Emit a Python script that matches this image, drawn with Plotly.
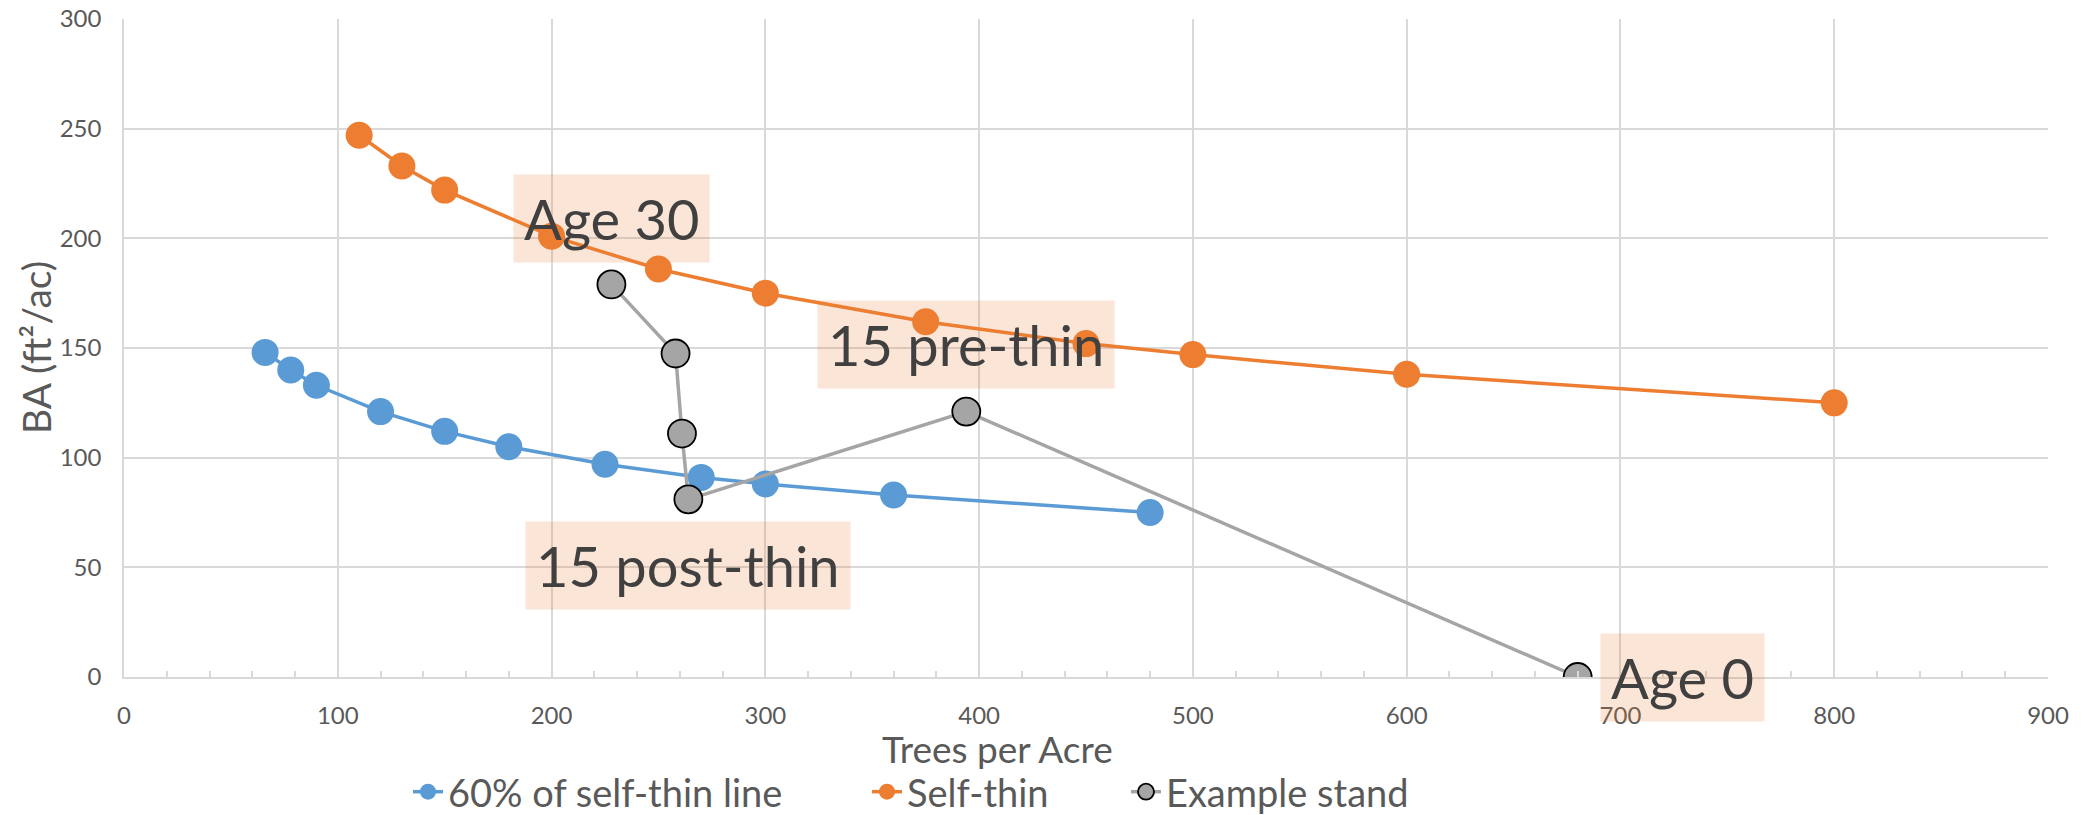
import plotly.graph_objects as go

# Trees per acre (TPA) and basal area (BA, ft²/ac)
self_thin_tpa = [110, 130, 150, 200, 250, 300, 375, 450, 500, 600, 800]
self_thin_ba = [247, 233, 222, 201, 186, 175, 162, 152, 147, 138, 125]

sixty_tpa = [66, 78, 90, 120, 150, 180, 225, 270, 300, 360, 480]
sixty_ba = [148, 140, 133, 121, 112, 105, 97, 91, 88, 83, 75]

stand_tpa = [680, 394, 264, 261, 258, 228]
stand_ba = [0, 121, 81, 111, 147.5, 179]

# Stand-history labels: text and the (TPA, BA) spot each one sits on
label_text = ["Age 30", "15 pre-thin", "15 post-thin", "Age 0"]
label_tpa = [228, 394, 264, 729]
label_ba = [209, 151.5, 51, 0]

W, H = 2082, 815
ML, MR, MT, MB = 124, 34, 19, 138
PW, PH = W - ML - MR, H - MT - MB
FONT = "Lato"
TXT = "#595959"

fig = go.Figure()

fig.add_trace(go.Scatter(
    x=sixty_tpa, y=sixty_ba, mode="lines+markers", name="60% of self-thin line",
    line=dict(color="#5B9BD5", width=3.5),
    marker=dict(color="#5B9BD5", size=27),
    legendwidth=414,
))
fig.add_trace(go.Scatter(
    x=self_thin_tpa, y=self_thin_ba, mode="lines+markers", name="Self-thin",
    line=dict(color="#ED7D31", width=3.5),
    marker=dict(color="#ED7D31", size=27),
    legendwidth=214,
))
fig.add_trace(go.Scatter(
    x=stand_tpa, y=stand_ba, mode="lines+markers", name="Example stand",
    line=dict(color="#A5A5A5", width=3.5),
    marker=dict(color="#A5A5A5", size=28, line=dict(color="#000000", width=1.8)),
))

for t, x, y in zip(label_text, label_tpa, label_ba):
    fig.add_annotation(
        x=x, y=y, xref="x", yref="y", text=t, showarrow=False,
        font=dict(family=FONT, size=56, color="#404040"),
        bgcolor="rgba(237,125,49,0.2)", borderpad=10,
        xanchor="center", yanchor="middle",
    )

# axis titles
fig.add_annotation(
    x=(997 - ML) / PW, y=(H - MB - 749) / PH,
    xref="paper", yref="paper", text="Trees per Acre", showarrow=False,
    font=dict(family=FONT, size=37, color=TXT), xanchor="center", yanchor="middle",
)
fig.add_annotation(
    x=(36 - ML) / PW, y=0.5,
    xref="paper", yref="paper", text="BA (ft²/ac)", showarrow=False, textangle=-90,
    font=dict(family=FONT, size=39, color=TXT), xanchor="center", yanchor="middle",
)

fig.update_layout(
    width=W, height=H,
    margin=dict(l=ML, r=MR, t=MT, b=MB, pad=0, autoexpand=False),
    paper_bgcolor="white", plot_bgcolor="white",
    font=dict(family=FONT, color=TXT),
    showlegend=True,
    legend=dict(
        orientation="h", x=(408 - ML) / PW, xanchor="left",
        y=(H - MB - 792) / PH, yanchor="middle",
        font=dict(family=FONT, size=38, color=TXT),
        bgcolor="rgba(0,0,0,0)", itemsizing="trace",
    ),
)

fig.update_xaxes(
    range=[0, 900], dtick=100, tick0=0,
    showgrid=True, gridcolor="#D9D9D9", gridwidth=1.5,
    showline=True, linecolor="#D9D9D9", linewidth=1.5,
    zeroline=False, ticks="", ticklabelstandoff=16,
    tickfont=dict(family=FONT, size=24, color=TXT),
    minor=dict(dtick=20, ticks="inside", ticklen=6, tickcolor="#D9D9D9", tickwidth=1.5, showgrid=False),
)
fig.update_yaxes(
    range=[0, 300], dtick=50, tick0=0,
    showgrid=True, gridcolor="#D9D9D9", gridwidth=1.5,
    showline=True, linecolor="#D9D9D9", linewidth=1.5,
    zeroline=False, ticks="", ticklabelstandoff=16,
    tickfont=dict(family=FONT, size=24, color=TXT),
)

fig.write_html("out.html")
